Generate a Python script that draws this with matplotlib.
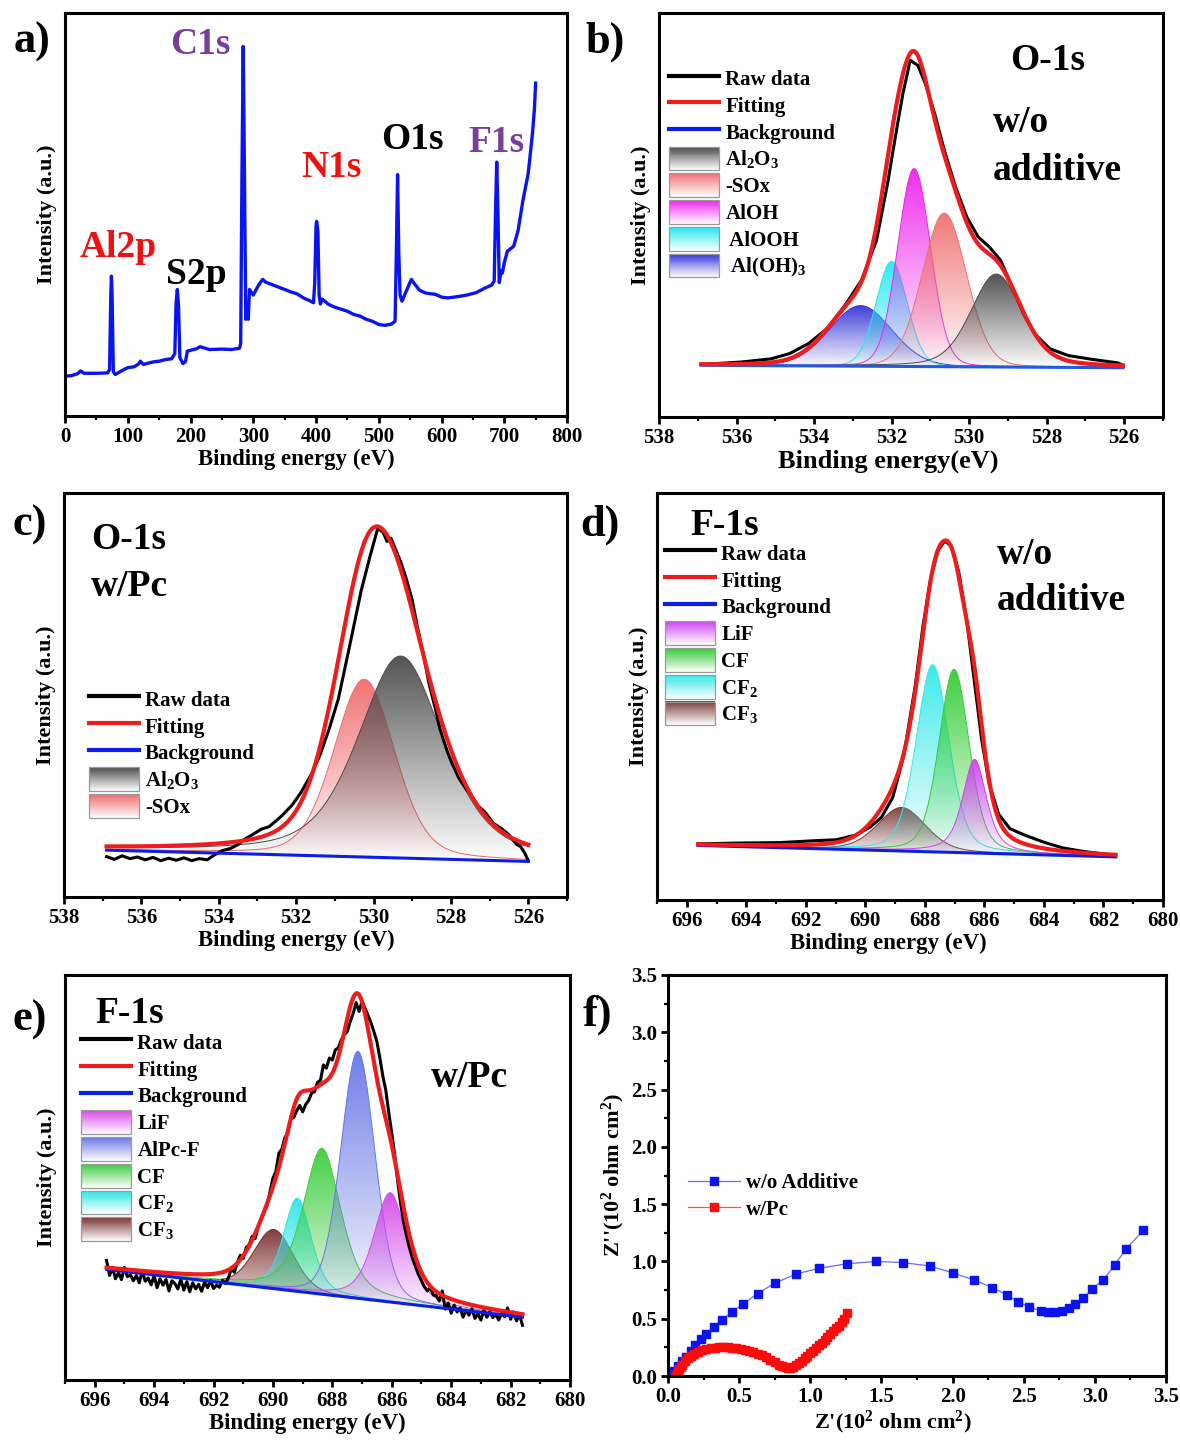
import matplotlib
matplotlib.use("Agg")
import matplotlib.pyplot as plt
import numpy as np
from matplotlib.colors import to_rgb
from matplotlib.legend_handler import HandlerBase
from matplotlib.lines import Line2D
from matplotlib.patches import Patch, Rectangle
from matplotlib.ticker import MultipleLocator

plt.rcParams["font.family"] = ["Liberation Serif", "DejaVu Serif"]
plt.rcParams["font.weight"] = "bold"
plt.rcParams["axes.labelweight"] = "bold"
plt.rcParams["mathtext.fontset"] = "custom"
plt.rcParams["mathtext.rm"] = "Liberation Serif:bold"
plt.rcParams["mathtext.it"] = "Liberation Serif:bold"
plt.rcParams["mathtext.bf"] = "Liberation Serif:bold"

# ---------------- data ----------------
# a) survey spectrum (binding energy, intensity a.u.)
a_be = [0, 10, 20, 25, 30, 50, 68, 71, 73, 74, 75, 77, 80, 90, 100, 110, 118, 120,
        125, 140, 150, 160, 170, 175, 177, 179, 181, 183, 188, 192, 195, 210, 215,
        230, 250, 265, 278, 280, 282, 284, 286, 288, 290, 292, 294, 300, 305, 310,
        315, 320, 330, 340, 350, 360, 370, 380, 390, 396, 398, 400, 401, 403, 405,
        407, 410, 420, 430, 440, 450, 460, 470, 480, 490, 500, 510, 520, 526, 528,
        530, 532, 534, 537, 545, 552, 556, 565, 575, 590, 600, 610, 625, 640, 655,
        670, 680, 684, 686, 688, 690, 692, 695, 697, 700, 705, 715, 722, 730, 738,
        740, 745, 748, 750]
a_int = [9.9, 10.0, 10.5, 11.2, 10.6, 10.6, 10.7, 11.5, 30.0, 34.7, 30.0, 11.0, 10.3,
         11.2, 12.0, 12.2, 13.0, 13.6, 12.8, 13.4, 13.6, 14.0, 14.2, 15.5, 28.0, 31.4,
         27.0, 14.5, 13.0, 13.5, 16.1, 16.7, 17.2, 16.5, 16.6, 16.5, 16.8, 18.0, 60.0,
         91.7, 60.0, 24.0, 28.0, 24.0, 31.4, 30.0, 31.5, 32.8, 33.9, 33.2, 32.6, 32.0,
         31.4, 30.8, 30.3, 29.3, 28.6, 28.1, 33.0, 47.0, 48.3, 46.0, 30.0, 27.8, 29.0,
         27.7, 27.0, 26.5, 26.0, 25.2, 24.8, 24.0, 23.5, 22.7, 22.5, 22.8, 23.5, 40.0,
         59.9, 40.0, 30.0, 28.5, 31.4, 33.9, 33.0, 31.2, 30.5, 30.2, 29.5, 29.3, 29.6,
         30.0, 30.6, 31.8, 32.5, 33.5, 50.0, 63.0, 50.0, 33.1, 36.0, 35.5, 38.0, 40.9,
         42.1, 46.0, 53.7, 60.0, 62.8, 70.2, 76.0, 82.6]
a_peak_labels = ["Al2p", "S2p", "C1s", "N1s", "O1s", "F1s"]
a_label_be = [84, 209, 215, 425, 554, 688]
a_label_int = [41.7, 35.1, 92.1, 61.6, 68.6, 67.8]
a_label_colors = ["#ee1111", "black", "#7a3d9a", "#ee1111", "black", "#7a3d9a"]

# b) O-1s, w/o additive
b_raw_be = [536.91, 535.89, 535.11, 534.63, 534.14, 533.66, 533.17, 532.78, 532.39,
            532.10, 531.91, 531.71, 531.52, 531.32, 531.13, 530.89, 530.64, 530.35,
            530.06, 529.77, 529.48, 529.19, 528.89, 528.60, 528.31, 527.92, 527.44,
            526.85, 526.17, 526.03]
b_raw_int = [13.0, 13.6, 14.4, 15.7, 18.2, 21.9, 28.1, 33.8, 43.7, 58.0, 69.0, 80.0,
             88.3, 87.0, 82.5, 75.1, 66.0, 56.9, 49.5, 44.6, 42.1, 38.8, 32.2, 25.6,
             20.6, 16.9, 15.2, 14.3, 13.4, 12.8]
b_bg_be = [536.91, 526.03]
b_bg_int = [12.8, 12.2]
b_names = ["Al$_2$O$_3$", "-SOx", "AlOH", " AlOOH", " Al(OH)$_3$"]
b_centers = [529.30, 530.64, 531.42, 532.00, 532.80]
b_heights = [23.0, 38.0, 49.0, 26.0, 15.0]
b_fwhm = [1.55, 1.35, 1.0, 0.95, 1.9]
b_eta = [0.3, 0.1, 0.1, 0.1, 0.1]
b_colors = ["#4a4a4a", "#f07070", "#ee22ee", "#22e8ee", "#3434d8"]

# c) O-1s, w/Pc
c_raw_be = [536.9, 536.7, 536.5, 536.3, 536.1, 535.9, 535.7, 535.5, 535.3, 535.1,
            534.9, 534.7, 534.5, 534.3, 534.1, 533.9, 533.7, 533.5, 533.3, 533.1,
            532.9, 532.7, 532.5, 532.36, 532.1, 531.88, 531.6, 531.39, 531.15, 530.91,
            530.61, 530.32, 530.1, 529.89, 529.75, 529.65, 529.55, 529.45, 529.3,
            529.16, 529.0, 528.87, 528.7, 528.57, 528.4, 528.28, 528.1, 527.99, 527.8,
            527.6, 527.5, 527.3, 527.1, 526.9, 526.7, 526.5, 526.3, 526.2, 526.1, 526.0]
c_raw_int = [10.0, 9.3, 10.2, 9.5, 9.9, 9.2, 9.8, 9.0, 9.6, 9.1, 9.7, 9.0, 9.5, 9.2,
             10.5, 11.5, 12.0, 13.0, 14.5, 15.6, 16.8, 17.4, 19.0, 20.2, 22.8, 25.8,
             30.5, 35.0, 41.5, 49.0, 62.5, 75.8, 84.0, 91.3, 90.2, 88.0, 88.8, 86.5,
             83.0, 79.0, 73.5, 67.0, 59.5, 53.0, 46.5, 41.5, 36.2, 33.5, 29.5, 26.6,
             25.4, 22.6, 20.8, 18.2, 17.0, 15.4, 13.0, 12.5, 11.0, 9.0]
c_bg_be = [536.9, 526.0]
c_bg_int = [11.6, 8.8]
c_names = ["Al$_2$O$_3$", "-SOx"]
c_centers = [529.30, 530.24]
c_heights = [50.0, 44.0]
c_fwhm = [2.6, 1.85]
c_eta = [0.5, 0.25]
c_colors = ["#4a4a4a", "#f06a6a"]

# d) F-1s, w/o additive
d_raw_be = [695.62, 694.16, 692.89, 691.62, 690.98, 690.35, 689.84, 689.46, 689.08,
            688.70, 688.32, 688.06, 687.81, 687.56, 687.34, 687.11, 686.86, 686.60,
            686.35, 686.10, 685.84, 685.52, 685.14, 684.63, 684.00, 683.37, 682.73,
            682.10, 681.65]
d_raw_int = [13.8, 14.0, 14.1, 14.6, 14.8, 15.9, 17.9, 20.3, 25.2, 35.8, 52.8, 67.5,
             78.9, 85.8, 88.2, 87.0, 80.5, 69.1, 54.5, 39.8, 28.5, 21.1, 17.5, 15.9,
             14.2, 12.8, 12.0, 11.4, 11.0]
d_bg_be = [695.62, 681.59]
d_bg_int = [13.4, 10.6]
d_names = ["LiF", "CF", "CF$_2$", "CF$_3$"]
d_centers = [686.33, 687.02, 687.74, 688.78]
d_heights = [23.0, 45.0, 46.0, 10.7]
d_fwhm = [0.95, 1.2, 1.3, 1.9]
d_eta = [0.6, 0.3, 0.3, 0.3]
d_colors = ["#cc44ee", "#33cc33", "#33e8e8", "#7a3a3a"]

# e) F-1s, w/Pc
e_raw = [(695.6, 29.5), (695.5, 25.8), (695.4, 27.8), (695.3, 25.0), (695.2, 26.5),
         (695.1, 24.8), (695.0, 27.8), (694.9, 25.5), (694.8, 26.0), (694.7, 24.5),
         (694.6, 25.8), (694.5, 24.0), (694.4, 26.9), (694.3, 24.4), (694.2, 25.2),
         (694.1, 23.5), (694.0, 25.8), (693.9, 22.8), (693.8, 25.0), (693.7, 23.4),
         (693.6, 24.8), (693.5, 22.0), (693.4, 24.5), (693.3, 23.8), (693.2, 22.5),
         (693.1, 24.9), (693.0, 22.2), (692.9, 24.3), (692.8, 21.8), (692.7, 24.0),
         (692.6, 22.5), (692.5, 23.6), (692.4, 21.9), (692.3, 24.2), (692.2, 22.8),
         (692.1, 24.5), (692.0, 22.6), (691.9, 23.4), (691.8, 22.9), (691.7, 24.6),
         (691.6, 23.8), (691.5, 25.2), (691.4, 27.5), (691.3, 26.6), (691.2, 29.0),
         (691.1, 30.8), (691.0, 30.0), (690.9, 32.7), (690.8, 33.4), (690.7, 35.5),
         (690.6, 34.9), (690.5, 37.8), (690.4, 39.6), (690.3, 41.5), (690.2, 43.0),
         (690.1, 46.5), (690.0, 49.8), (689.9, 51.5), (689.8, 56.0), (689.7, 57.0),
         (689.6, 59.8), (689.5, 61.0), (689.4, 64.5), (689.3, 64.8), (689.2, 66.5),
         (689.1, 67.8), (689.0, 66.2), (688.9, 68.0), (688.8, 69.0), (688.7, 70.8),
         (688.6, 71.2), (688.5, 73.5), (688.4, 74.0), (688.3, 77.8), (688.2, 77.0),
         (688.1, 79.5), (688.0, 79.0), (687.9, 81.5), (687.8, 82.0), (687.7, 84.0),
         (687.6, 85.3), (687.5, 86.0), (687.4, 88.5), (687.3, 90.5), (687.2, 93.2),
         (687.1, 91.0), (687.0, 93.5), (686.9, 91.8), (686.8, 90.0), (686.7, 88.2),
         (686.6, 86.0), (686.5, 83.5), (686.4, 79.5), (686.3, 75.0), (686.2, 71.5),
         (686.1, 66.0), (686.0, 61.0), (685.9, 55.5), (685.8, 49.0), (685.7, 43.5),
         (685.6, 39.0), (685.5, 35.5), (685.4, 32.5), (685.3, 30.0), (685.2, 28.0),
         (685.1, 26.0), (685.0, 24.5), (684.9, 23.0), (684.8, 22.0), (684.7, 22.8),
         (684.6, 21.0), (684.5, 20.8), (684.4, 19.5), (684.3, 22.0), (684.2, 17.5),
         (684.1, 19.0), (684.0, 16.5), (683.9, 18.5), (683.8, 16.8), (683.7, 17.8),
         (683.6, 15.5), (683.5, 17.2), (683.4, 16.0), (683.3, 17.6), (683.2, 15.2),
         (683.1, 16.4), (683.0, 14.8), (682.9, 17.2), (682.8, 15.5), (682.7, 16.9),
         (682.6, 15.4), (682.5, 16.2), (682.4, 14.8), (682.3, 16.5), (682.2, 15.6),
         (682.1, 17.8), (682.0, 15.0), (681.9, 16.8), (681.8, 14.6), (681.7, 16.2),
         (681.6, 13.5)]
e_bg_be = [695.6, 681.6]
e_bg_int = [27.3, 15.5]
e_names = ["LiF", "AlPc-F", "CF", "CF$_2$", "CF$_3$"]
e_centers = [686.05, 687.14, 688.35, 689.18, 689.97]
e_heights = [27.0, 61.0, 36.0, 23.0, 14.6]
e_fwhm = [1.3, 1.35, 1.5, 1.1, 1.56]
e_eta = [0.5, 0.2, 0.5, 0.4, 0.2]
e_colors = ["#d448e8", "#6676e6", "#3ccc3c", "#2ee6e6", "#7a3030"]

# f) Nyquist plot (10^2 ohm cm^2)
f_wo_re = [0.02, 0.04, 0.07, 0.10, 0.13, 0.16, 0.19, 0.23, 0.27, 0.32, 0.38, 0.45,
           0.53, 0.63, 0.75, 0.90, 1.06, 1.26, 1.46, 1.65, 1.84, 2.00, 2.15, 2.28,
           2.38, 2.46, 2.54, 2.62, 2.67, 2.72, 2.77, 2.82, 2.86, 2.92, 2.98, 3.06,
           3.14, 3.22, 3.34]
f_wo_im = [0.01, 0.04, 0.09, 0.13, 0.17, 0.22, 0.27, 0.32, 0.37, 0.43, 0.49, 0.56,
           0.63, 0.72, 0.81, 0.89, 0.94, 0.98, 1.00, 0.99, 0.96, 0.90, 0.84, 0.77,
           0.71, 0.65, 0.60, 0.57, 0.56, 0.56, 0.57, 0.59, 0.63, 0.68, 0.76, 0.84,
           0.97, 1.11, 1.27]
f_pc_re = [0.05, 0.06, 0.07, 0.08, 0.09, 0.10, 0.12, 0.14, 0.16, 0.18, 0.21, 0.24,
           0.27, 0.30, 0.33, 0.36, 0.39, 0.42, 0.45, 0.48, 0.51, 0.54, 0.57, 0.60,
           0.63, 0.66, 0.69, 0.72, 0.75, 0.78, 0.80, 0.82, 0.84, 0.86, 0.88, 0.90,
           0.92, 0.94, 0.96, 0.98, 1.00, 1.02, 1.04, 1.06, 1.08, 1.10, 1.12, 1.14,
           1.16, 1.18, 1.20, 1.22, 1.24, 1.26]
f_pc_im = [0.00, 0.02, 0.04, 0.06, 0.08, 0.10, 0.13, 0.155, 0.175, 0.19, 0.21, 0.225,
           0.235, 0.243, 0.247, 0.249, 0.25, 0.25, 0.248, 0.244, 0.238, 0.23, 0.22,
           0.208, 0.195, 0.18, 0.162, 0.142, 0.122, 0.10, 0.087, 0.076, 0.07, 0.072,
           0.082, 0.097, 0.115, 0.135, 0.155, 0.177, 0.20, 0.222, 0.245, 0.268, 0.29,
           0.315, 0.34, 0.365, 0.39, 0.415, 0.44, 0.47, 0.50, 0.55]

W, H = 1180, 1447
fig = plt.figure(figsize=(W / 100, H / 100), dpi=100)


def add_ax(x0, y0, x1, y1):
    return fig.add_axes([x0 / W, 1 - y1 / H, (x1 - x0) / W, (y1 - y0) / H])


def pv(x, c, h, w, eta):
    # pseudo-Voigt line shape used for the fitted components
    u = (x - c) / w
    return h * ((1 - eta) * np.exp(-4 * np.log(2) * u ** 2) + eta / (1 + 4 * u ** 2))


class GradHandler(HandlerBase):
    def create_artists(self, legend, orig_handle, xdescent, ydescent,
                       width, height, fontsize, trans):
        rgb = np.array(to_rgb(orig_handle.get_facecolor()))
        n = 24
        arts = []
        for i in range(n):
            f = (i + 0.5) / n
            col = 1 - f * (1 - rgb)
            arts.append(Rectangle((-xdescent, -ydescent + i * height / n), width,
                                  height / n * 1.05, facecolor=col, edgecolor="none",
                                  transform=trans))
        arts.append(Rectangle((-xdescent, -ydescent), width, height, facecolor="none",
                              edgecolor="#9a9a9a", lw=0.9, transform=trans))
        return arts


def grad_fill(ax, x, base, comp, color, z):
    top = base + comp
    poly = ax.fill_between(x, base, top, facecolor="none", edgecolor="none", zorder=z)
    rgba = np.zeros((256, 1, 4))
    rgba[..., :3] = to_rgb(color)
    rgba[:, 0, 3] = np.linspace(0.0, 0.95, 256)
    im = ax.imshow(rgba, extent=(x.min(), x.max(), base.min(), top.max()),
                   origin="lower", aspect="auto", zorder=z, interpolation="bilinear")
    im.set_clip_path(poly.get_paths()[0], transform=ax.transData)
    ax.plot(x, top, color=color, lw=0.7, zorder=z + 0.1)


def draw_xps(ax, raw_be, raw_int, bg_be, bg_int, centers, heights, fwhm, eta, colors,
             bg_color="#0a1ee6"):
    x = np.linspace(bg_be[0], bg_be[1], 800)
    slope = (bg_int[1] - bg_int[0]) / (bg_be[1] - bg_be[0])
    bg = bg_int[0] + slope * (x - bg_be[0])
    total = bg.copy()
    for i in reversed(range(len(centers))):
        comp = pv(x, centers[i], heights[i], fwhm[i], eta[i])
        total += comp
        grad_fill(ax, x, bg, comp, colors[i], 2 + 0.2 * (len(centers) - i))
    ax.plot(raw_be, raw_int, color="black", lw=2.2, zorder=5)
    ax.plot(x, bg, color=bg_color, lw=2.2, zorder=6)
    ax.plot(x, total, color="#ee1c1c", lw=3.0, zorder=7)


def style_xps(ax, xlim, major, minor, xlabel, xlabel_size=16.5, label_x=0.46):
    ax.set_xlim(*xlim)
    ax.set_ylim(0, 100)
    ax.xaxis.set_major_locator(MultipleLocator(major))
    ax.xaxis.set_minor_locator(MultipleLocator(minor))
    ax.tick_params(axis="x", which="major", direction="out", length=5, width=2,
                   labelsize=15, pad=3)
    ax.tick_params(axis="x", which="minor", direction="out", length=3, width=1.6)
    ax.set_yticks([])
    for s in ax.spines.values():
        s.set_linewidth(2.2)
    ax.set_xlabel(xlabel, fontsize=xlabel_size, labelpad=1)
    ax.xaxis.label.set_x(label_x)
    ax.set_ylabel("Intensity (a.u.)", fontsize=16, labelpad=6)


def xps_legend(ax, names, colors, anchor):
    handles = [Line2D([], [], color="black", lw=3),
               Line2D([], [], color="#ee1c1c", lw=3),
               Line2D([], [], color="#0a1ee6", lw=3)]
    labels = ["Raw data", "Fitting", "Background"]
    for nm, col in zip(names, colors):
        handles.append(Patch(facecolor=col))
        labels.append(nm)
    ax.legend(handles, labels, loc="upper left", bbox_to_anchor=anchor, frameon=False,
              handler_map={Patch: GradHandler()}, handlelength=2.4, handleheight=1.38,
              labelspacing=0.14, handletextpad=0.3, borderpad=0, borderaxespad=0,
              fontsize=15)


def ax_text(ax, x, y, s, size=27, ha="left"):
    ax.text(x, y, s, transform=ax.transAxes, fontsize=size, fontweight="bold",
            ha=ha, va="center", zorder=10)


# ---------------- a) survey ----------------
ax_a = add_ax(65, 13, 567, 416)
ax_a.plot(a_be, a_int, color="#0a14f0", lw=2.4)
for lab, xb, yi, col in zip(a_peak_labels, a_label_be, a_label_int, a_label_colors):
    ax_a.text(xb, yi, lab, color=col, fontsize=27, fontweight="bold",
              ha="center", va="center")
style_xps(ax_a, (0, 800), 100, 50, "Binding energy (eV)", label_x=0.46)

# ---------------- b) O-1s w/o ----------------
ax_b = add_ax(659, 13, 1163, 417)
draw_xps(ax_b, b_raw_be, b_raw_int, b_bg_be, b_bg_int, b_centers, b_heights, b_fwhm,
         b_eta, b_colors, bg_color="#1f5ae0")
style_xps(ax_b, (538, 525), 2, 1, "Binding energy(eV)", xlabel_size=19, label_x=0.455)
xps_legend(ax_b, b_names, b_colors, (0.02, 0.868))
ax_text(ax_b, 0.771, 0.883, "O-1s", ha="center")
ax_text(ax_b, 0.662, 0.730, "w/o")
ax_text(ax_b, 0.662, 0.611, "additive")

# ---------------- c) O-1s w/Pc ----------------
ax_c = add_ax(64, 493, 567, 897)
draw_xps(ax_c, c_raw_be, c_raw_int, c_bg_be, c_bg_int, c_centers, c_heights, c_fwhm,
         c_eta, c_colors)
style_xps(ax_c, (538, 525), 2, 1, "Binding energy (eV)", label_x=0.461)
xps_legend(ax_c, c_names, c_colors, (0.049, 0.52))
ax_text(ax_c, 0.054, 0.884, "O-1s")
ax_text(ax_c, 0.054, 0.769, "w/Pc")

# ---------------- d) F-1s w/o ----------------
ax_d = add_ax(657, 493, 1163, 900)
draw_xps(ax_d, d_raw_be, d_raw_int, d_bg_be, d_bg_int, d_centers, d_heights, d_fwhm,
         d_eta, d_colors)
style_xps(ax_d, (697, 680), 2, 1, "Binding energy (eV)", label_x=0.458)
xps_legend(ax_d, d_names, d_colors, (0.016, 0.882))
ax_text(ax_d, 0.066, 0.919, "F-1s")
ax_text(ax_d, 0.672, 0.85, "w/o")
ax_text(ax_d, 0.672, 0.736, "additive")

# ---------------- e) F-1s w/Pc ----------------
ax_e = add_ax(65, 975, 570, 1380)
e_raw_be = [p[0] for p in e_raw]
e_raw_int = [p[1] for p in e_raw]
draw_xps(ax_e, e_raw_be, e_raw_int, e_bg_be, e_bg_int, e_centers, e_heights, e_fwhm,
         e_eta, e_colors)
style_xps(ax_e, (697, 680), 2, 1, "Binding energy (eV)", label_x=0.479)
xps_legend(ax_e, e_names, e_colors, (0.032, 0.864))
ax_text(ax_e, 0.06, 0.906, "F-1s")
ax_text(ax_e, 0.725, 0.747, "w/Pc")

# ---------------- f) Nyquist ----------------
ax_f = add_ax(668, 975, 1166, 1376)
ax_f.plot(f_wo_re, f_wo_im, color="#6a6af0", lw=0.9, marker="s", ms=6,
          mfc="#0a14f0", mec="#0a14f0", label="w/o Additive")
ax_f.plot(f_pc_re, f_pc_im, color="#ff5050", lw=0.9, marker="s", ms=6,
          mfc="#ff0a0a", mec="#ff0a0a", label="w/Pc")
ax_f.set_xlim(0, 3.5)
ax_f.set_ylim(0, 3.5)
for axis in (ax_f.xaxis, ax_f.yaxis):
    axis.set_major_locator(MultipleLocator(0.5))
    axis.set_minor_locator(MultipleLocator(0.25))
ax_f.tick_params(which="major", direction="out", length=5, width=2, labelsize=15, pad=3)
ax_f.tick_params(which="minor", direction="out", length=3, width=1.6)
for s in ax_f.spines.values():
    s.set_linewidth(2.2)
ax_f.set_xlabel("Z'(10$^2$ ohm cm$^{2}$)", fontsize=16, labelpad=1)
ax_f.xaxis.label.set_x(0.452)
ax_f.set_ylabel("Z''(10$^2$ ohm cm$^{2}$)", fontsize=16, labelpad=3)
ax_f.legend(loc="upper left", bbox_to_anchor=(0.04, 0.505), frameon=False, fontsize=15,
            handlelength=2.5, labelspacing=0.3, handletextpad=0.3, borderpad=0,
            borderaxespad=0)

# panel letters
for lab, px, py in [("a)", 32, 42), ("b)", 605, 42), ("c)", 30, 525),
                    ("d)", 600, 525), ("e)", 30, 1020), ("f)", 597, 1015)]:
    fig.text(px / W, 1 - py / H, lab, fontsize=32, fontweight="bold",
             ha="center", va="center")

fig.savefig("out.png", dpi=100)
